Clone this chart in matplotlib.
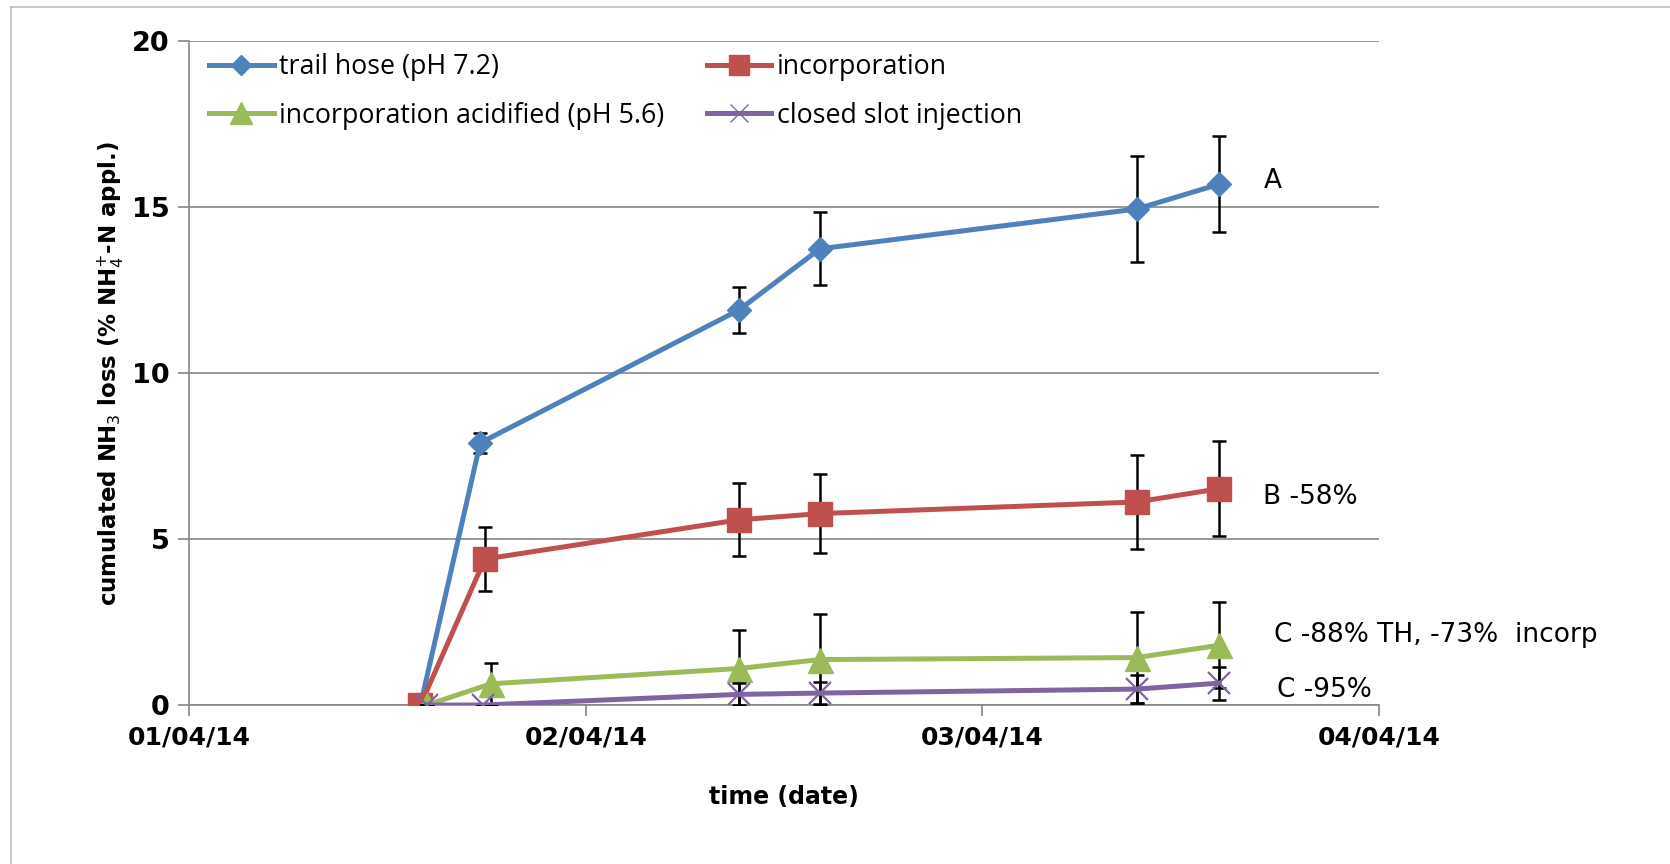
import pandas as pd
import matplotlib.pyplot as plt
import matplotlib.dates as mdates
from matplotlib.lines import Line2D

# measurement times (01-03 April 2014)
t_trail = pd.to_datetime(['2014-04-01 14:00', '2014-04-01 17:37', '2014-04-02 09:15',
                          '2014-04-02 14:10', '2014-04-03 09:20', '2014-04-03 14:20'])
t_incorp = pd.to_datetime(['2014-04-01 14:00', '2014-04-01 17:54', '2014-04-02 09:15',
                           '2014-04-02 14:10', '2014-04-03 09:20', '2014-04-03 14:20'])
t_acid = pd.to_datetime(['2014-04-01 14:24', '2014-04-01 18:16', '2014-04-02 09:15',
                         '2014-04-02 14:10', '2014-04-03 09:20', '2014-04-03 14:20'])
t_slot = pd.to_datetime(['2014-04-01 14:24', '2014-04-01 17:48', '2014-04-02 09:15',
                         '2014-04-02 14:10', '2014-04-03 09:20', '2014-04-03 14:20'])

trail = [0, 7.9, 11.9, 13.75, 14.95, 15.7]
trail_err = [0, 0.3, 0.7, 1.1, 1.6, 1.45]
incorp = [0, 4.4, 5.58, 5.77, 6.12, 6.52]
incorp_err = [0, 0.97, 1.1, 1.2, 1.43, 1.43]
acid = [0, 0.64, 1.1, 1.37, 1.43, 1.8]
acid_err = [0, 0.64, 1.16, 1.37, 1.37, 1.3]
slot = [0, 0, 0.32, 0.36, 0.48, 0.66]
slot_err = [0, 0, 0.33, 0.32, 0.43, 0.5]

labels = ['trail hose (pH 7.2)', 'incorporation',
          'incorporation acidified (pH 5.6)', 'closed slot injection']
colors = ['#4F81BD', '#C0504D', '#9BBB59', '#8064A2']

notes = ['A', 'B -58%', 'C -88% TH, -73%  incorp', 'C -95%']
note_y = [15.8, 6.27, 2.1, 0.45]
note_t = pd.to_datetime(['2014-04-03 17:00', '2014-04-03 17:00',
                         '2014-04-03 17:40', '2014-04-03 17:50'])

fig = plt.figure(figsize=(16.7, 8.64), dpi=100)
ax = fig.add_axes([0.1132, 0.184, 0.7126, 0.768])

series = [(t_trail, trail, trail_err, 'D', 12.5, colors[0]),
          (t_incorp, incorp, incorp_err, 's', 17, colors[1]),
          (t_acid, acid, acid_err, '^', 18, colors[2]),
          (t_slot, slot, slot_err, 'x', 16, colors[3])]

for i, (t, y, e, m, ms, c) in enumerate(series):
    ax.errorbar(t, y, yerr=e, fmt='none', ecolor='black', elinewidth=1.8,
                capsize=5, capthick=1.8, zorder=3 + i)
    ax.plot(t, y, color=c, lw=3.6, marker=m, ms=ms, mfc=c, mec=c,
            mew=1.6 if m == 'x' else 1, zorder=3.5 + i)

ax.set_xlim(pd.Timestamp('2014-04-01'), pd.Timestamp('2014-04-04'))
ax.set_ylim(0, 20)
ax.set_yticks([0, 5, 10, 15, 20])
ax.xaxis.set_major_locator(mdates.DayLocator())
ax.xaxis.set_major_formatter(mdates.DateFormatter('%d/%m/%y'))

ax.grid(axis='y', color='#868686', lw=1.2)
ax.set_axisbelow(True)
for s in ['top', 'right']:
    ax.spines[s].set_visible(False)
for s in ['left', 'bottom']:
    ax.spines[s].set_color('#868686')
    ax.spines[s].set_linewidth(1.2)
ax.tick_params(axis='both', colors='#868686', width=1.2, length=8,
               labelcolor='black', labelsize=18)
ax.tick_params(axis='y', pad=6, labelsize=19.5)
ax.tick_params(axis='x', pad=7)
for lab in ax.get_xticklabels() + ax.get_yticklabels():
    lab.set_fontweight('bold')

ax.set_xlabel('time (date)', fontsize=17, fontweight='bold', labelpad=25)
ax.set_ylabel('cumulated NH$_3$ loss (% NH$_4^{+}$-N appl.)', fontsize=16.5,
              fontweight='bold')
ax.yaxis.set_label_coords(-0.053, 0.5)

for txt, t, y in zip(notes, note_t, note_y):
    ax.text(t, y, txt, fontsize=19, va='center', ha='left', color='black')

handles = [Line2D([], [], color=c, lw=3.6, marker=m, ms=ms * 0.85, mfc=c, mec=c,
                  mew=1)
           for (_, _, _, m, ms, c) in series]
order = [0, 2, 1, 3]
ax.legend([handles[i] for i in order], [labels[i] for i in order], ncol=2,
          loc='upper left', bbox_to_anchor=(0.017, 0.982), frameon=False,
          prop={'family': 'Open Sans', 'size': 19.3}, handlelength=2.4,
          handletextpad=0.2, columnspacing=1.6, borderpad=0, borderaxespad=0,
          labelspacing=0.75)

# outer chart-area border (left and top)
fig.add_artist(Line2D([0.0064, 0.0064], [0, 0.9915], color='#BFBFBF', lw=1.2))
fig.add_artist(Line2D([0.0064, 1], [0.9915, 0.9915], color='#BFBFBF', lw=1.2))

fig.savefig('out.png', dpi=100)
